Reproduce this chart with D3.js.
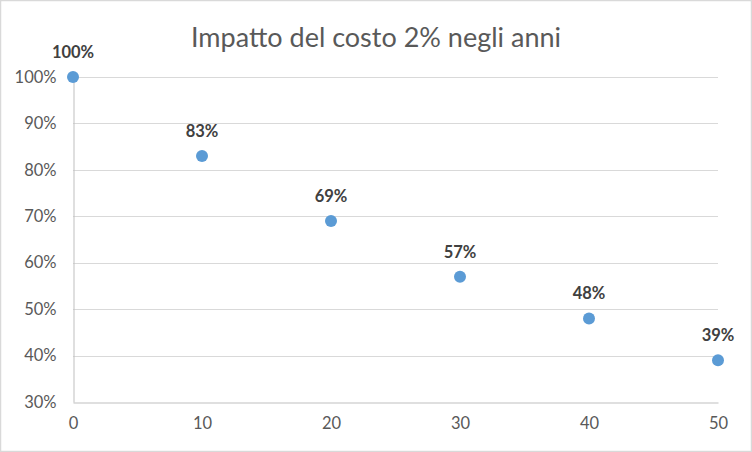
<!DOCTYPE html>
<html><head><meta charset="utf-8">
<script src="https://cdn.jsdelivr.net/npm/d3@7"></script>
<style>body{margin:0;background:#fff}svg{display:block}</style>
</head><body>
<script>
const years = [0, 10, 20, 30, 40, 50];
const values = [1.00, 0.83, 0.69, 0.57, 0.48, 0.39];
const dataLabels = ["100%", "83%", "69%", "57%", "48%", "39%"];
const xTicks = [0, 10, 20, 30, 40, 50];
const yTicks = [0.3, 0.4, 0.5, 0.6, 0.7, 0.8, 0.9, 1.0];
const title = "Impatto del costo 2% negli anni";

const W = 752, H = 452;
const svg = d3.select("body").append("svg").attr("width", W).attr("height", H);
svg.append("rect").attr("x", 0.5).attr("y", 0.5).attr("width", W - 1).attr("height", H - 1)
  .attr("fill", "#fff").attr("stroke", "#d9d9d9").attr("stroke-width", 1.5);

const x = d3.scaleLinear().domain([0, 50]).range([73, 718]);
const y = d3.scaleLinear().domain([0.3, 1.0]).range([402, 77]);
const font = "Lato, 'Open Sans', sans-serif";

svg.append("text").attr("x", 376).attr("y", 47).attr("text-anchor", "middle")
  .attr("font-family", font).attr("font-size", 27).attr("fill", "#595959").text(title);

// gridlines
svg.append("g").selectAll("line").data(yTicks.slice(1)).join("line")
  .attr("x1", x(0)).attr("x2", x(50)).attr("y1", d => Math.round(y(d)) + 0.5).attr("y2", d => Math.round(y(d)) + 0.5)
  .attr("stroke", "#d9d9d9").attr("stroke-width", 1);

const yAxis = d3.axisLeft(y).tickValues(yTicks).tickFormat(d3.format(".0%")).tickSize(0).tickPadding(17);
const gy = svg.append("g").attr("transform", `translate(${x(0) + 0.5},0)`).call(yAxis);
gy.select(".domain").attr("stroke", "#bfbfbf");
gy.selectAll("text").attr("font-family", font).attr("font-size", 16.5).attr("fill", "#595959");

const xAxis = d3.axisBottom(x).tickValues(xTicks).tickSize(0).tickPadding(15);
const gx = svg.append("g").attr("transform", `translate(0,${Math.round(y(0.3)) + 0.5})`).call(xAxis);
gx.select(".domain").attr("stroke", "#bfbfbf");
gx.selectAll("text").attr("font-family", font).attr("font-size", 16.5).attr("fill", "#595959");

svg.append("g").selectAll("circle").data(years).join("circle")
  .attr("cx", (d) => x(d)).attr("cy", (d, i) => y(values[i])).attr("r", 6)
  .attr("fill", "#5b9bd5");

svg.append("g").selectAll("text").data(years).join("text")
  .attr("x", d => x(d)).attr("y", (d, i) => y(values[i]) - 19).attr("text-anchor", "middle")
  .attr("font-family", font).attr("font-size", 16.5).attr("font-weight", "bold").attr("fill", "#404040")
  .text((d, i) => dataLabels[i]);
</script>
</body></html>
